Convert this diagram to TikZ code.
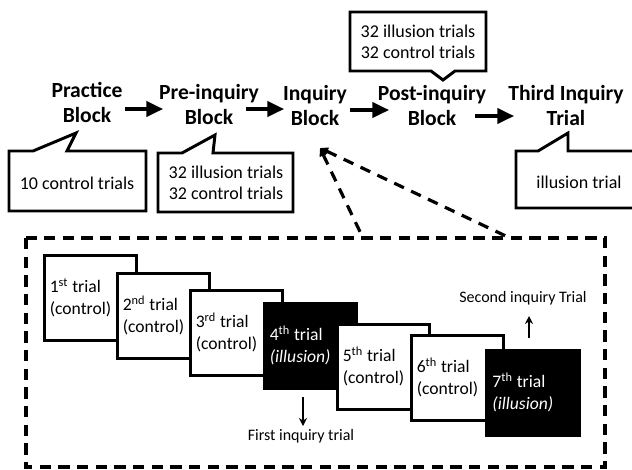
\documentclass[tikz,border=0pt]{standalone}
\usepackage{fontspec}
\setmainfont{Carlito}
\usetikzlibrary{arrows.meta,calc}
\begin{document}
\begin{tikzpicture}[x=0.75pt,y=-0.75pt,
  every node/.style={inner sep=0pt},
  blocklabel/.style={font=\fontsize{16.2}{18.75}\selectfont\bfseries, align=center, inner sep=2pt},
  calltext/.style={font=\fontsize{13.5}{15.5}\selectfont, align=center},
  callout/.style={line width=2.2pt, line join=miter, fill=white},
  flowarrow/.style={line width=2.3pt, -{Triangle[length=12.5pt,width=11.5pt]}},
  zoomline/.style={line width=2.4pt, dash pattern=on 8pt off 6pt, {Triangle[length=6pt,width=6pt]}-},
  zoombox/.style={line width=3pt, dash pattern=on 8.5pt off 5.5pt},
  trialbox/.style={draw, line width=2.2pt, fill=white, minimum width=68.5pt, minimum height=63.5pt,
    anchor=north west, text width=61pt, inner xsep=4pt, align=left,
    font=\fontsize{13.2}{16.5}\selectfont},
  illbox/.style={trialbox, fill=black, text=white},
  smallarrow/.style={line width=1.4pt, -{Stealth[length=6pt,width=6pt]}},
  smalltext/.style={font=\fontsize{12}{14}\selectfont}
]
\useasboundingbox (0,0) rectangle (632,469);

% top row labels
\node[blocklabel] (practice) at (87,102) {Practice\\Block};
\node[blocklabel] (pre) at (209,104) {Pre-inquiry\\Block};
\node[blocklabel] (inquiry) at (315,105) {Inquiry\\Block};
\node[blocklabel] (post) at (432,105) {Post-inquiry\\Block};
\node[blocklabel] (third) at (566,105) {Third Inquiry\\Trial};

% flow arrows
\coordinate (a1s) at (125,109); \coordinate (a1e) at (163,109);
\coordinate (a2s) at (246,109); \coordinate (a2e) at (284,109);
\coordinate (a3s) at (350,110); \coordinate (a3e) at (389,110);
\coordinate (a4s) at (475,116); \coordinate (a4e) at (514,116);
\draw[flowarrow] (a1s) -- (a1e);
\draw[flowarrow] (a2s) -- (a2e);
\draw[flowarrow] (a3s) -- (a3e);
\draw[flowarrow] (a4s) -- (a4e);

% callouts
\draw[callout] (9,151) -- (33,151) -- (76,133) -- (67,151) -- (146,151) -- (146,211) -- (9,211) -- cycle;
\node[calltext] (c1) at (77,183) {10 control trials};

\draw[callout] (158,153) -- (182,153) -- (215,135) -- (213,153) -- (293,153) -- (293,212) -- (158,212) -- cycle;
\node[calltext] (c2) at (226,183) {32 illusion trials\\32 control trials};

\draw[callout] (350,12) -- (486,12) -- (486,71) -- (455,71) -- (443,80) -- (431,71) -- (350,71) -- cycle;
\node[calltext] (c3) at (418,42) {32 illusion trials\\32 control trials};

\draw[callout] (636,151) -- (568,151) -- (568,133) -- (538,151) -- (516,151) -- (516,208) -- (636,208);
\node[calltext] (c4) at (579,182) {illusion trial};

% zoom connectors
\coordinate (ztip) at (320,148);
\coordinate (zl) at (363,238);
\coordinate (zr) at (510,238);
\draw[zoomline] (ztip) -- (zl);
\draw[zoomline] (ztip) -- (zr);

% dashed frame
\draw[zoombox] (26,238) rectangle (605,467);

% trial boxes
\node[trialbox] (t1) at (43,254) {1\textsuperscript{st}\hspace{-0.1em} trial\\(control)};
\node[trialbox] (t2) at (116,272) {2\textsuperscript{nd}\hspace{-0.1em} trial\\(control)};
\node[trialbox] (t3) at (189,289) {3\textsuperscript{rd}\hspace{-0.1em} trial\\(control)};
\node[illbox] (t4) at (263,302) {4\textsuperscript{th}\hspace{-0.1em} trial\\\textit{(illusion)}};
\node[trialbox] (t5) at (336,323) {5\textsuperscript{th}\hspace{-0.1em} trial\\(control)};
\node[trialbox] (t6) at (410,334) {6\textsuperscript{th}\hspace{-0.1em} trial\\(control)};
\node[illbox, minimum width=70pt] (t7) at (485,349) {7\textsuperscript{th}\hspace{-0.1em} trial\\\textit{(illusion)}};

% inquiry markers
\node[smalltext] (first) at (301,436) {First inquiry trial};
\node[smalltext] (second) at (523,298) {Second inquiry Trial};
\coordinate (f1) at (303,397);
\coordinate (f2) at (303,426);
\coordinate (s1) at (529,338);
\coordinate (s2) at (529,316);
\draw[smallarrow] (f1) -- (f2);
\draw[smallarrow] (s1) -- (s2);
\end{tikzpicture}
\end{document}
